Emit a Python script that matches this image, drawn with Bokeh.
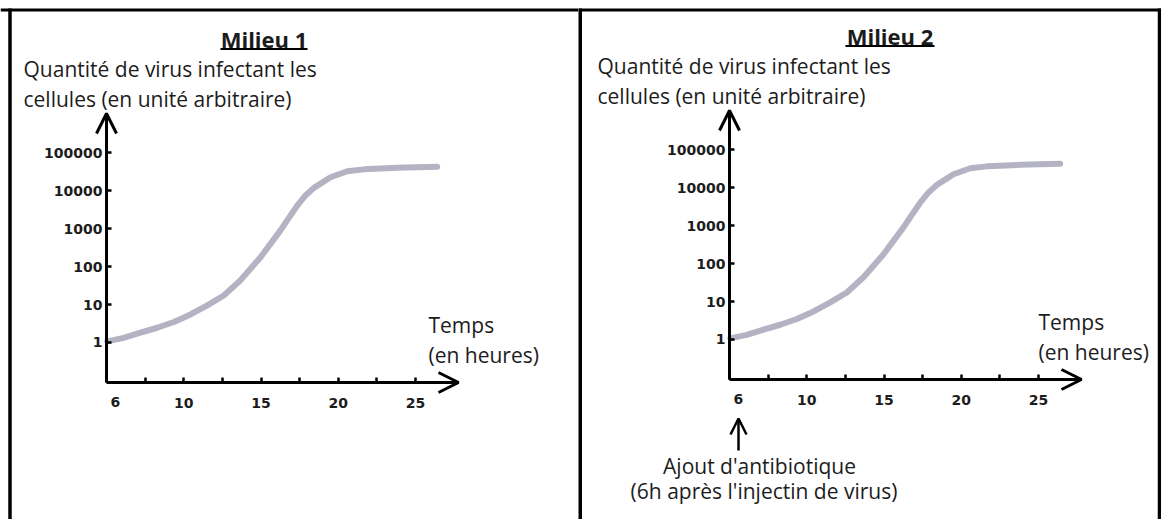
from bokeh.plotting import figure
from bokeh.layouts import row
from bokeh.models import Range1d, FixedTicker, Label, Arrow, OpenHead
from bokeh.embed import file_html
from bokeh.resources import INLINE

# ---------------- data ----------------
hours = [5.05, 6.10, 7.20, 8.28, 9.36, 10.44, 11.52, 12.59, 13.67, 14.97, 15.61,
         16.26, 16.80, 17.34, 17.88, 18.42, 19.50, 20.58, 21.65, 23.82, 26.40]
virus_milieu1 = [1.07, 1.32, 1.82, 2.45, 3.47, 5.5, 9.5, 17.4, 44, 178, 400,
                 910, 1950, 4070, 7600, 12000, 22900, 33000, 37000, 40700, 43600]
virus_milieu2 = [1.07, 1.32, 1.82, 2.45, 3.47, 5.5, 9.5, 17.4, 44, 178, 400,
                 910, 1950, 4070, 7600, 12000, 22900, 33000, 37000, 40700, 43600]

xtick_vals = [5, 7.5, 10, 12.5, 15, 17.5, 20, 22.5, 25]
xtick_labels = ["6", "", "10", "", "15", "", "20", "", "25"]
ytick_vals = [1, 10, 100, 1000, 10000, 100000]
ytick_labels = ["1", "10", "100", "1000", "10000", "100000"]

panel_titles = ["Milieu 1", "Milieu 2"]
y_title_lines = ["Quantité de virus infectant les", "cellules (en unité arbitraire)"]
x_title_lines = ["Temps", "(en heures)"]
note_lines = ["Ajout d'antibiotique", "(6h après l'injectin de virus)"]

# ---------------- layout (page pixels) ----------------
H = 519
X_MIN, X_MAX = 5.0, 27.78          # drawn extent of the time axis (hours)
LOG_MIN, LOG_MAX = -1.0554, 6.042  # drawn extent of the log axis (decades)
TEXT_FONT = "Open Sans"
TICK_FONT = "DejaVu Sans"
INK = "#1c1c1c"
TEXT_DY = 7   # baseline correction of labels (px)


def make_panel(W, px0, left, right, top, bottom, values):
    """left/right/top/bottom: page pixels of the axes box; px0: page x of the figure."""
    def X(px):
        return X_MIN + (px - left) * (X_MAX - X_MIN) / (right - left)

    def Y(py):
        return 10 ** (LOG_MIN + (bottom - py) * (LOG_MAX - LOG_MIN) / (bottom - top))

    p = figure(width=W, height=H, x_range=Range1d(X(px0), X(px0 + W)),
               y_range=Range1d(Y(H), Y(0)), y_axis_type="log",
               output_backend="svg", toolbar_location=None, title=None,
               min_border_left=0, min_border_right=0, min_border_top=0, min_border_bottom=0)
    p.outline_line_color = None
    p.xgrid.visible = False
    p.ygrid.visible = False
    p.background_fill_color = "white"
    p.border_fill_color = "white"

    for ax in (p.xaxis[0], p.yaxis[0]):
        ax.axis_line_width = 3
        ax.axis_line_color = "black"
        ax.major_tick_line_width = 2.5
        ax.major_tick_line_color = "black"
        ax.major_tick_in = 5
        ax.major_tick_out = 0
        ax.minor_tick_line_color = None
        ax.major_label_text_font = TICK_FONT
        ax.major_label_text_font_style = "bold"
        ax.major_label_text_font_size = "14px"
        ax.major_label_text_color = INK

    p.xaxis.fixed_location = 10 ** LOG_MIN
    p.xaxis.bounds = (X_MIN, X_MAX)
    p.xaxis.ticker = FixedTicker(ticks=xtick_vals)
    p.xaxis.major_label_overrides = {v: (t if i > 0 else "")
                                     for i, (v, t) in enumerate(zip(xtick_vals, xtick_labels))}
    p.xaxis.major_label_standoff = 15
    p.yaxis.fixed_location = X_MIN
    p.yaxis.bounds = (10 ** LOG_MIN, 10 ** LOG_MAX)
    p.yaxis.ticker = FixedTicker(ticks=ytick_vals)
    p.yaxis.major_label_overrides = dict(zip(ytick_vals, ytick_labels))
    p.yaxis.major_label_standoff = 4

    # first x label sits just right of the origin
    p.add_layout(Label(x=X(left + 4), y=Y(bottom + 26 - TEXT_DY), text=xtick_labels[0],
                       text_font=TICK_FONT, text_font_style="bold", text_font_size="14px",
                       text_color=INK, text_align="left", text_baseline="alphabetic"))

    # curve
    p.line(hours, values, line_width=6, line_color="#a9a9bb", line_alpha=0.88,
           line_cap="round", line_join="round")

    # axis arrow heads
    p.add_layout(Arrow(end=OpenHead(size=20, line_width=3, line_color="black"),
                       x_start=X_MIN, y_start=Y(top + 30), x_end=X_MIN, y_end=10 ** LOG_MAX,
                       line_width=3, line_color="black"))
    p.add_layout(Arrow(end=OpenHead(size=20, line_width=3, line_color="black"),
                       x_start=X(right - 30), y_start=10 ** LOG_MIN, x_end=X_MAX, y_end=10 ** LOG_MIN,
                       line_width=3, line_color="black"))

    def txt(px, py, s, size="21px", style="normal", align="left"):
        p.add_layout(Label(x=X(px), y=Y(py - TEXT_DY), text=s, text_font=TEXT_FONT,
                           text_font_size=size, text_font_style=style, text_color=INK,
                           text_align=align, text_baseline="alphabetic"))

    def seg(px0_, py0, px1, py1, w):
        p.add_layout(Arrow(end=None, x_start=X(px0_), y_start=Y(py0), x_end=X(px1), y_end=Y(py1),
                           line_width=w, line_color="black"))

    return p, X, Y, txt, seg


# ---- panel 1 ----
p1, X1, Y1, txt1, seg1 = make_panel(578, 0, 106, 458, 113, 382, virus_milieu1)
txt1(263.5, 45, panel_titles[0], size="22px", style="bold", align="center")
seg1(220, 48.5, 307, 48.5, 2)
txt1(23, 75, y_title_lines[0])
txt1(23, 105, y_title_lines[1])
txt1(428, 331, x_title_lines[0])
txt1(428, 361, x_title_lines[1])
seg1(0, 9.5, 578, 9.5, 3)
seg1(9.5, 8, 9.5, 519, 3.5)

# ---- panel 2 ----
p2, X2, Y2, txt2, seg2 = make_panel(583, 578, 729, 1081, 110, 379, virus_milieu2)
txt2(889.5, 42, panel_titles[1], size="22px", style="bold", align="center")
seg2(845, 45.5, 934, 45.5, 2)
txt2(597, 72, y_title_lines[0])
txt2(597, 102, y_title_lines[1])
txt2(1038, 328, x_title_lines[0])
txt2(1038, 358, x_title_lines[1])
p2.add_layout(Arrow(end=OpenHead(size=16, line_width=2.5, line_color="black"),
                    x_start=X2(738), y_start=Y2(450), x_end=X2(738), y_end=Y2(418),
                    line_width=2.5, line_color="black"))
txt2(759, 472, note_lines[0], align="center")
txt2(763.5, 497, note_lines[1], align="center")
seg2(578, 9.5, 1161, 9.5, 3)
seg2(579.5, 8, 579.5, 519, 4)
seg2(1159, 8, 1159, 519, 3.5)

layout = row(p1, p2)
open("out.html", "w").write(file_html(layout, INLINE))
